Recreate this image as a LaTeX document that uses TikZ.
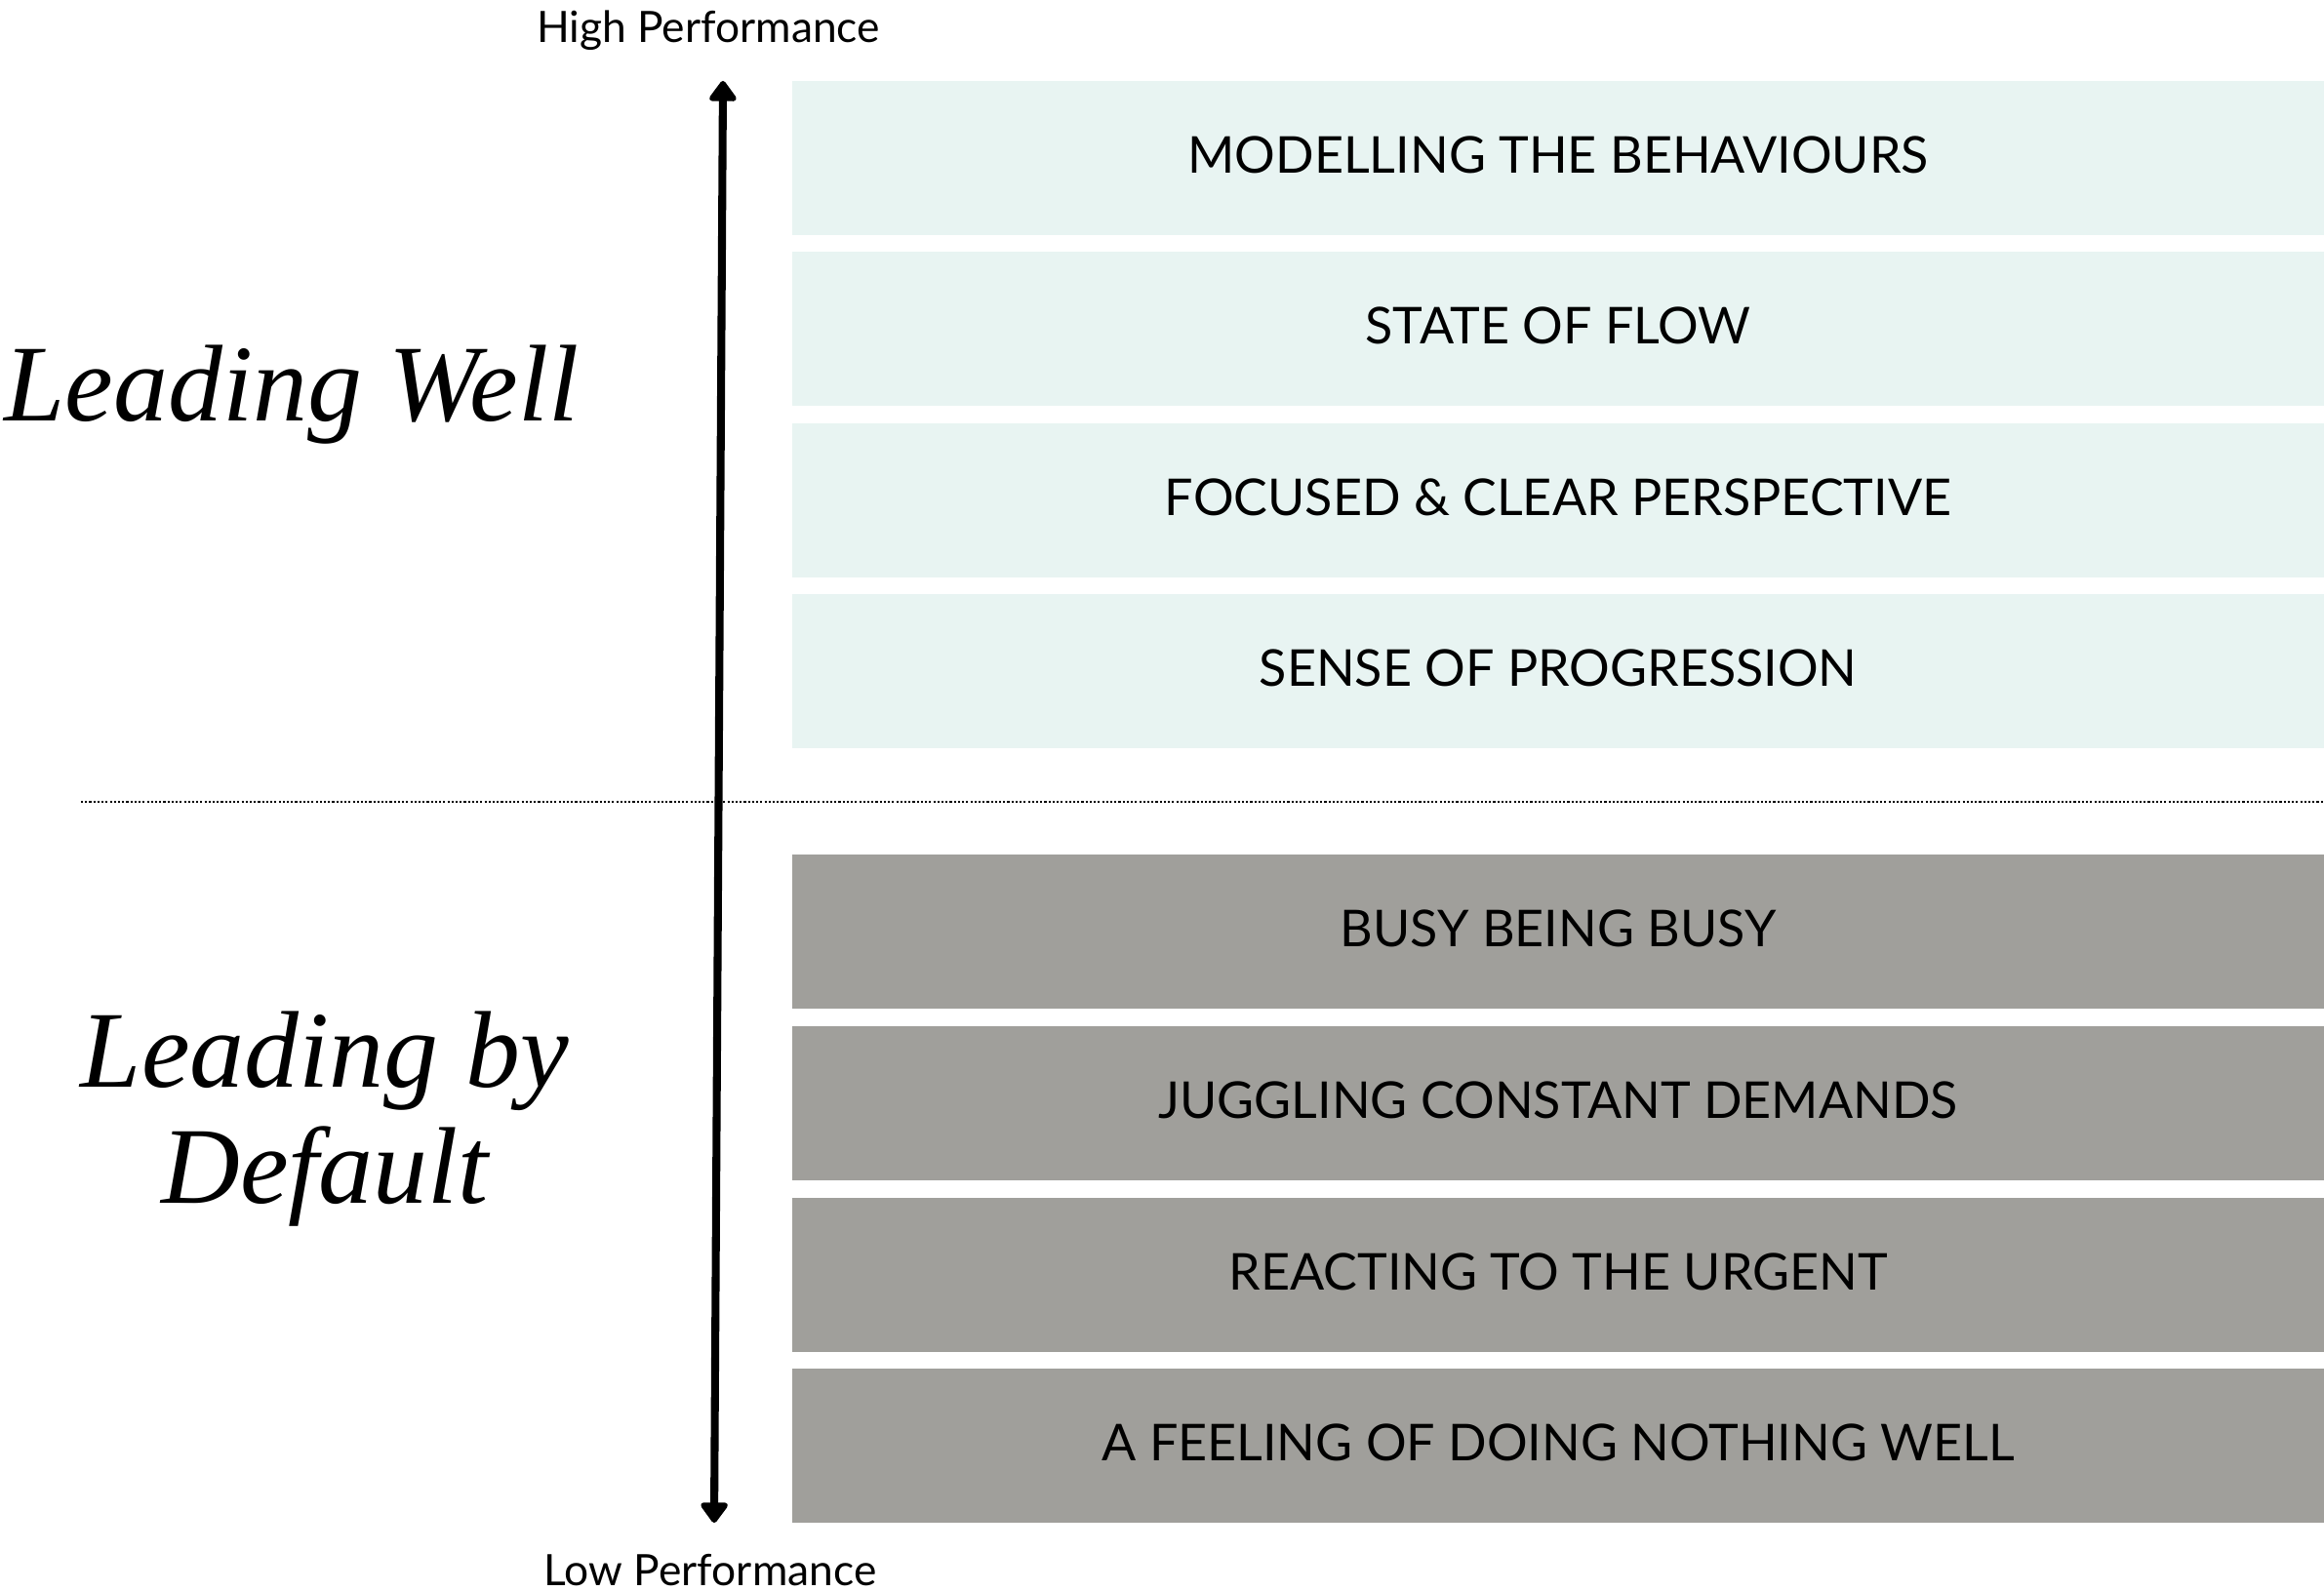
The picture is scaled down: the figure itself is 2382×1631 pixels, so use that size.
\documentclass[tikz,border=0pt]{standalone}
\usepackage{fontspec}
\setmainfont{Liberation Serif}
\newfontfamily\barfont{Lato}
\usepackage{xcolor}
\usetikzlibrary{arrows.meta,positioning}

\definecolor{wellmint}{HTML}{E8F4F2}
\definecolor{defaultgrey}{HTML}{A09F9B}

\tikzset{
    levelbar/.style={minimum width=15.7cm, minimum height=1.57cm, inner sep=0pt,
        text depth=2pt, font=\barfont\fontsize{14.8}{16}\selectfont},
    wellbar/.style={levelbar, fill=wellmint},
    defaultbar/.style={levelbar, fill=defaultgrey},
    axislabel/.style={font=\barfont\fontsize{12.6}{14}\selectfont},
    zonelabel/.style={font=\itshape\fontsize{31.8}{34}\selectfont, align=center}
}

\begin{document}
\begin{tikzpicture}[x=0.01cm, y=-0.01cm]
    \useasboundingbox (0,0) rectangle (2382,1631);

    % Divider between the two zones
    \coordinate (divl) at (83,822);
    \coordinate (divr) at (2382,822);
    \draw[line width=0.6pt, dash pattern=on 0.6pt off 0.6pt] (divl) -- (divr);

    % Leading well levels
    \node[wellbar] (w1) at (1597,162) {MODELLING THE BEHAVIOURS};
    \node[wellbar] (w2) at (1597,337) {STATE OF FLOW};
    \node[wellbar] (w3) at (1597,513) {FOCUSED \& CLEAR PERSPECTIVE};
    \node[wellbar] (w4) at (1597,688) {SENSE OF PROGRESSION};

    % Leading by default levels
    \node[defaultbar] (d1) at (1597,955) {BUSY BEING BUSY};
    \node[defaultbar] (d2) at (1597,1131) {JUGGLING CONSTANT DEMANDS};
    \node[defaultbar] (d3) at (1597,1307) {REACTING TO THE URGENT};
    \node[defaultbar] (d4) at (1597,1482) {A FEELING OF DOING NOTHING WELL};

    % Performance axis
    \node[axislabel] (high) at (726,31) {High Performance};
    \node[axislabel] (low) at (728,1610) {Low Performance};
    \coordinate (axtop) at (741,83);
    \coordinate (axbot) at (732,1561);
    \draw[line width=2.3pt, {Triangle[round, width=9pt, length=6.5pt]}-{Triangle[round, width=9pt, length=6.5pt]}] (axbot) -- (axtop);

    % Zone labels
    \node[zonelabel] (well) at (299,405) {Leading Well};
    \node[zonelabel] (default) at (333,1147) {Leading by\\Default};
\end{tikzpicture}
\end{document}
